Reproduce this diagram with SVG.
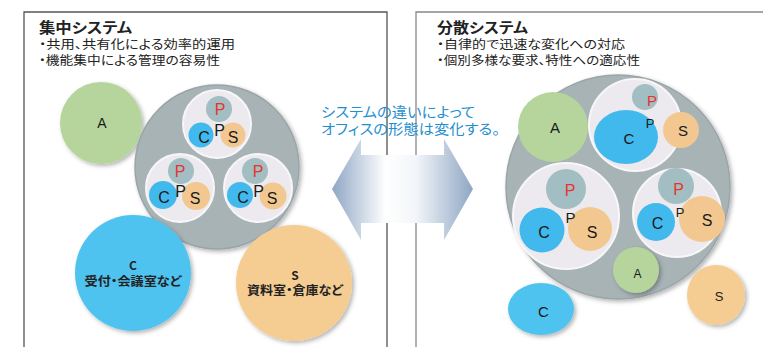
<svg xmlns="http://www.w3.org/2000/svg" width="763" height="347" viewBox="0 0 763 347">
<defs>
<style>
.jp{font-family:"Noto Sans CJK JP","Noto Sans",sans-serif;fill:#222;font-feature-settings:"palt"}
.ttl{font-size:14.5px;font-weight:bold}
.bul{font-size:12px}
.cap{font-family:"Noto Sans CJK JP","Noto Sans",sans-serif;font-size:14px;fill:#1f8fd0;font-feature-settings:"palt"}
.lbl{font-family:"Noto Sans CJK JP","Liberation Sans",sans-serif;font-size:12px;font-weight:bold;fill:#222;text-anchor:middle;font-feature-settings:"palt"}
.lt{font-family:"Liberation Sans",Arial,sans-serif;fill:#1a1a1a;text-anchor:middle}
.rp{fill:#e8332e}
.gray{fill:#a8b3b6;stroke:#9aa5a9;stroke-width:1.5}
.inner{fill:#eceaee;stroke:#f7f7f9;stroke-width:2}
.pc{fill:#a2bec2}
.cc{fill:#41b9ec}
.sc{fill:#f3c890}
.ac{fill:#b5d59c}
.box{fill:none;stroke-width:1.3}
</style>
<filter id="sh" x="-20%" y="-20%" width="150%" height="150%">
<feDropShadow dx="2" dy="2" stdDeviation="2" flood-color="#000" flood-opacity="0.3"/>
</filter>
<linearGradient id="ag" x1="332" y1="0" x2="473" y2="0" gradientUnits="userSpaceOnUse">
<stop offset="0" stop-color="#8ea6c4"/>
<stop offset="0.38" stop-color="#ffffff"/>
<stop offset="0.6" stop-color="#f2f5f9"/>
<stop offset="1" stop-color="#8ea6c4"/>
</linearGradient>
</defs>
<rect width="763" height="347" fill="#ffffff"/>

<!-- panel frames -->
<g id="panel-left">
<polyline class="box" stroke="#555" points="24,347 24,12 387,12 387,347"/>
<text class="jp ttl" x="39" y="33" textLength="93" lengthAdjust="spacingAndGlyphs">集中システム</text>
<text class="jp bul" x="39" y="48.5" textLength="196" lengthAdjust="spacingAndGlyphs">・共用、共有化による効率的運用</text>
<text class="jp bul" x="39" y="65" textLength="181" lengthAdjust="spacingAndGlyphs">・機能集中による管理の容易性</text>
</g>
<g id="panel-right">
<polyline class="box" stroke="#888" points="416,347 416,12 763,12"/>
<text class="jp ttl" x="437" y="33" textLength="91" lengthAdjust="spacingAndGlyphs">分散システム</text>
<text class="jp bul" x="437" y="48.5" textLength="188" lengthAdjust="spacingAndGlyphs">・自律的で迅速な変化への対応</text>
<text class="jp bul" x="437" y="65" textLength="203" lengthAdjust="spacingAndGlyphs">・個別多様な要求、特性への適応性</text>
</g>

<!-- left diagram -->
<g id="L-A">
<circle class="ac" cx="101" cy="123" r="41" filter="url(#sh)"/>
<text class="lt" x="102" y="128" font-size="14">A</text>
</g>
<g id="L-core">
<circle class="gray" cx="217" cy="167" r="82" filter="url(#sh)"/>
</g>
<g id="L-unit1">
<circle class="inner" cx="217" cy="124" r="34"/>
<circle class="pc" cx="219" cy="109" r="13"/>
<circle class="cc" cx="201" cy="135" r="12.5"/>
<circle class="sc" cx="233" cy="135" r="12.5"/>
<text class="lt rp" x="220" y="115" font-size="16">P</text>
<text class="lt" x="204" y="143" font-size="16">C</text>
<text class="lt" x="219.5" y="136" font-size="16">P</text>
<text class="lt" x="233" y="143" font-size="16">S</text>
</g>
<g id="L-unit2">
<circle class="inner" cx="180" cy="188" r="34"/>
<circle class="pc" cx="181" cy="171" r="13"/>
<circle class="cc" cx="163" cy="195" r="14"/>
<circle class="sc" cx="196" cy="196" r="14"/>
<text class="lt rp" x="180" y="177" font-size="16">P</text>
<text class="lt" x="164" y="203" font-size="16">C</text>
<text class="lt" x="180.5" y="197" font-size="16">P</text>
<text class="lt" x="195" y="204" font-size="16">S</text>
</g>
<g id="L-unit3">
<circle class="inner" cx="258" cy="188" r="34"/>
<circle class="pc" cx="255" cy="171" r="13"/>
<circle class="cc" cx="240" cy="195" r="13"/>
<circle class="sc" cx="273" cy="196" r="13.5"/>
<text class="lt rp" x="258" y="177" font-size="16">P</text>
<text class="lt" x="243" y="203" font-size="16">C</text>
<text class="lt" x="258.5" y="197" font-size="16">P</text>
<text class="lt" x="272" y="204" font-size="16">S</text>
</g>
<g id="L-C">
<circle cx="133" cy="273" r="58" fill="#50c3f0" filter="url(#sh)"/>
<text class="lbl" x="133" y="270">C</text>
<text class="lbl" x="133" y="286" textLength="97" lengthAdjust="spacingAndGlyphs">受付・会議室など</text>
</g>
<g id="L-S">
<circle cx="294" cy="283" r="58" fill="#f5cc92" filter="url(#sh)"/>
<text class="lbl" x="295" y="280">S</text>
<text class="lbl" x="295" y="295" textLength="96" lengthAdjust="spacingAndGlyphs">資料室・倉庫など</text>
</g>

<!-- right diagram -->
<g id="R-core">
<circle class="gray" cx="618" cy="187" r="112" filter="url(#sh)"/>
</g>
<g id="R-A">
<circle class="ac" cx="553" cy="127" r="35"/>
<text class="lt" x="555" y="133" font-size="15">A</text>
</g>
<g id="R-unit1">
<circle class="inner" cx="635" cy="125" r="46"/>
<circle class="pc" cx="645" cy="97" r="13"/>
<ellipse class="cc" cx="626" cy="137" rx="32" ry="27"/>
<circle class="sc" cx="681" cy="130" r="18"/>
<text class="lt rp" x="652" y="106" font-size="15">P</text>
<text class="lt" x="650" y="128" font-size="13">P</text>
<text class="lt" x="629" y="144" font-size="15">C</text>
<text class="lt" x="683" y="136" font-size="15">S</text>
</g>
<g id="R-unit2">
<circle class="inner" cx="566" cy="216" r="53"/>
<circle class="pc" cx="566" cy="189" r="20"/>
<circle class="cc" cx="542" cy="230" r="22.5"/>
<circle class="sc" cx="590" cy="229" r="22"/>
<text class="lt rp" x="570" y="196" font-size="16">P</text>
<text class="lt" x="570.5" y="223" font-size="15">P</text>
<text class="lt" x="544" y="238" font-size="16">C</text>
<text class="lt" x="592" y="238" font-size="16">S</text>
</g>
<g id="R-unit3">
<circle class="inner" cx="677" cy="213" r="44"/>
<circle class="pc" cx="676" cy="186" r="18"/>
<circle class="cc" cx="656" cy="222" r="19"/>
<circle class="sc" cx="702" cy="219" r="23"/>
<text class="lt rp" x="678.5" y="195" font-size="16">P</text>
<text class="lt" x="680" y="217" font-size="13">P</text>
<text class="lt" x="657.5" y="229" font-size="16">C</text>
<text class="lt" x="707" y="226" font-size="16">S</text>
</g>
<g id="R-A2">
<circle class="ac" cx="636" cy="270" r="23" filter="url(#sh)"/>
<text class="lt" x="637.5" y="278" font-size="12">A</text>
</g>
<g id="R-C">
<ellipse cx="541" cy="309" rx="33" ry="26" fill="#50c3f0" filter="url(#sh)"/>
<text class="lt" x="543.5" y="317" font-size="15">C</text>
</g>
<g id="R-S">
<ellipse cx="716" cy="295" rx="29" ry="30" fill="#f5cc92" filter="url(#sh)"/>
<text class="lt" x="719" y="301" font-size="13">S</text>
</g>

<!-- connector: double arrow with caption -->
<g id="connectors">
<polygon fill="url(#ag)" points="332,189 361,139 361,155 444,155 444,139 473,189 444,240 444,223 361,223 361,240"/>
<text class="cap" x="321" y="117" textLength="154" lengthAdjust="spacingAndGlyphs">システムの違いによって</text>
<text class="cap" x="321" y="134" textLength="179" lengthAdjust="spacingAndGlyphs">オフィスの形態は変化する。</text>
</g>
</svg>
